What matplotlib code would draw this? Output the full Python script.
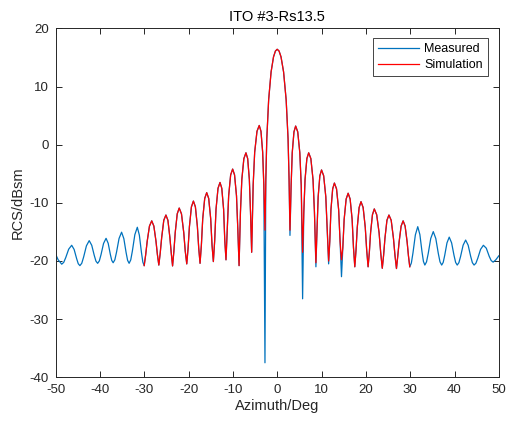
import matplotlib
matplotlib.use('Agg')
import matplotlib.pyplot as plt
import numpy as np

plt.rcParams['font.family'] = ['Liberation Sans', 'DejaVu Sans']
plt.rcParams['axes.unicode_minus'] = False

############################# Data #############################

# Measured RCS (dBsm) vs azimuth (deg), points read lobe by lobe
az_meas = [
    -50.0, -49.4, -48.6,
    -48.15, -47.7, -47.03, -46.35, -45.8, -45.24, -44.87, -44.5,
    -44.08, -43.66, -43.03, -42.4, -41.83, -41.26, -40.88, -40.5,
    -40.12, -39.74, -39.17, -38.6, -38.12, -37.64, -37.32, -37.0,
    -36.62, -36.24, -35.67, -35.1, -34.59, -34.08, -33.74, -33.4,
    -33.03, -32.66, -32.11, -31.55, -31.09, -30.62, -30.31, -30.0,
    -29.66, -29.32, -28.81, -28.3, -27.82, -27.34, -27.02, -26.7,
    -26.38, -26.06, -25.58, -25.1, -24.65, -24.2, -23.9, -23.6,
    -23.3, -23.0, -22.55, -22.1, -21.59, -21.08, -20.74, -20.4,
    -20.1, -19.8, -19.35, -18.9, -18.45, -18.0, -17.7, -17.4,
    -17.1, -16.8, -16.35, -15.9, -15.45, -15.0, -14.7, -14.4,
    -14.1, -13.8, -13.35, -12.9, -12.5, -12.09, -11.82, -11.55,
    -11.25, -10.95, -10.5, -10.05, -9.62, -9.18, -8.89, -8.6,
    -8.29, -7.98, -7.52, -7.05, -6.66, -6.28, -6.02, -5.76,
    -5.42, -5.08, -4.56, -4.05, -3.66, -3.28, -3.02, -2.76,
    -2.57, -2.35, -1.93, -1.38, -0.83, -0.4, 0.0, 0.42, 0.86, 1.44, 2.02, 2.45, 2.68, 2.88,
    3.14, 3.39, 3.78, 4.16, 4.63, 5.1, 5.42, 5.73,
    6.0, 6.28, 6.69, 7.1, 7.59, 8.08, 8.4, 8.73,
    8.98, 9.24, 9.62, 10.0, 10.48, 10.96, 11.28, 11.6,
    11.86, 12.12, 12.51, 12.9, 13.38, 13.86, 14.18, 14.5,
    14.8, 15.1, 15.55, 16.0, 16.45, 16.9, 17.2, 17.5,
    17.78, 18.06, 18.48, 18.9, 19.38, 19.86, 20.18, 20.5,
    20.78, 21.06, 21.48, 21.9, 22.44, 22.98, 23.34, 23.7,
    24.0, 24.3, 24.75, 25.2, 25.71, 26.22, 26.56, 26.9,
    27.2, 27.5, 27.95, 28.4, 28.85, 29.3, 29.6, 29.9,
    30.26, 30.62, 31.16, 31.7, 32.18, 32.66, 32.98, 33.3,
    33.68, 34.06, 34.63, 35.2, 35.77, 36.34, 36.72, 37.1,
    37.44, 37.78, 38.29, 38.8, 39.34, 39.88, 40.24, 40.6,
    40.98, 41.36, 41.93, 42.5, 43.07, 43.64, 44.02, 44.4,
    44.82, 45.24, 45.87, 46.5, 47.16, 47.82, 48.26, 48.7,
    49.3, 50.0,
]
rcs_meas = [
    -18.8, -19.8, -20.55,
    -20.24, -19.43, -17.97, -17.3, -18.02, -19.59, -20.47, -20.8,
    -20.39, -19.32, -17.39, -16.5, -17.30, -19.05, -20.03, -20.4,
    -19.99, -18.92, -16.99, -16.1, -16.96, -18.85, -19.90, -20.3,
    -19.80, -18.49, -16.13, -15.05, -16.15, -18.55, -19.89, -20.4,
    -19.81, -18.26, -15.48, -14.2, -15.56, -18.52, -20.17, -20.8,
    -18.9, -16.6, -14.0, -13.1, -14.0, -16.6, -18.9, -20.7,
    -18.6, -16.0, -13.0, -12.1, -13.0, -16.0, -18.6, -20.85,
    -18.3, -15.1, -11.9, -10.9, -11.9, -15.1, -18.3, -20.5,
    -17.8, -14.1, -10.7, -9.7, -10.7, -14.1, -17.8, -20.4,
    -17.25, -12.75, -9.25, -8.25, -9.25, -12.75, -17.25, -20.1,
    -16.5, -11.1, -7.5, -6.5, -7.5, -11.1, -16.5, -19.8,
    -14.4, -8.8, -5.2, -4.2, -5.2, -8.8, -14.4, -20.8,
    -11.6, -6.0, -2.4, -1.4, -2.4, -6.0, -11.6, -18.5,
    -6.9, -1.3, 2.3, 3.3, 2.3, -1.3, -6.9, -37.5,
    -6.1, 1.0, 7.7, 12.5, 15.1, 16.1, 16.4, 16.1, 15.1, 12.5, 7.7, 1.0, -6.1, -15.6,
    -7.0, -1.4, 2.2, 3.2, 2.2, -1.4, -7.0, -26.5,
    -11.6, -6.0, -2.4, -1.4, -2.4, -6.0, -11.6, -21.0,
    -14.55, -8.95, -5.35, -4.35, -5.35, -8.95, -14.55, -20.5,
    -16.6, -11.2, -7.6, -6.6, -7.6, -11.2, -16.6, -22.7,
    -17.65, -12.85, -9.35, -8.35, -9.35, -12.85, -17.65, -21.0,
    -18.1, -14.2, -10.8, -9.8, -10.8, -14.2, -18.1, -21.0,
    -18.55, -15.15, -12.05, -11.05, -12.05, -15.15, -18.55, -21.25,
    -19.0, -16.1, -13.0, -12.1, -13.0, -16.1, -19.0, -21.3,
    -19.1, -16.7, -14.0, -13.1, -14.0, -16.7, -19.1, -21.0,
    -20.34, -18.62, -15.52, -14.1, -15.46, -18.42, -20.07, -20.7,
    -20.15, -18.72, -16.13, -14.95, -16.13, -18.72, -20.15, -20.7,
    -20.24, -19.04, -16.89, -15.9, -16.89, -19.04, -20.24, -20.7,
    -20.29, -19.22, -17.29, -16.4, -17.29, -19.22, -20.29, -20.7,
    -20.38, -19.53, -18.0, -17.3, -17.8, -19.2, -19.92, -20.2,
    -19.8, -19.1,
]

# Simulation covers -30..30 deg and follows the measurement except at the nulls
sim_start, sim_stop = -30.0, 29.9
sim_null_az = [-2.76, 2.88, 5.73, 8.73, 11.6, 14.5]
sim_null_rcs = [-14.7, -14.7, -18.5, -20.3, -20.0, -19.8]

az_meas = np.array(az_meas)
rcs_meas = np.array(rcs_meas)
keep = (az_meas >= sim_start) & (az_meas <= sim_stop)
az_sim = az_meas[keep]
rcs_sim = rcs_meas[keep].copy()
for a, r in zip(sim_null_az, sim_null_rcs):
    rcs_sim[np.isclose(az_sim, a)] = r

############################# Plot #############################

fig = plt.figure(figsize=(5.07, 4.23), dpi=100)
ax = fig.add_axes([0.1095, 0.108, 0.8745, 0.825])

ax.plot(az_meas, rcs_meas, color=(0, 0.447, 0.741), lw=0.9, label='Measured')
ax.plot(az_sim, rcs_sim, color='r', lw=0.9, label='Simulation')

ax.set_xlim(-50, 50)
ax.set_ylim(-40, 20)
ax.set_xticks(np.arange(-50, 51, 10))
ax.set_yticks(np.arange(-40, 21, 10))
ax.tick_params(direction='in', top=True, right=True, length=4, width=0.7,
               labelsize=9.5, colors='#262626', pad=5)
for s in ax.spines.values():
    s.set_color('#262626')
    s.set_linewidth(0.7)

ax.set_xlabel('Azimuth/Deg', fontsize=10.5, color='#262626', labelpad=2)
ax.set_ylabel('RCS/dBsm', fontsize=10.5, color='#262626', labelpad=3)
ax.set_title('ITO #3-Rs13.5', fontsize=10.5, color='#000000', pad=5)

leg = ax.legend(loc='upper right', bbox_to_anchor=(0.975, 0.972), borderaxespad=0,
                fontsize=9, handlelength=3.3, handletextpad=0.4, labelspacing=0.35,
                borderpad=0.4, fancybox=False, framealpha=1, edgecolor='#262626')
leg.get_frame().set_linewidth(0.6)

fig.savefig('out.png', dpi=100)
